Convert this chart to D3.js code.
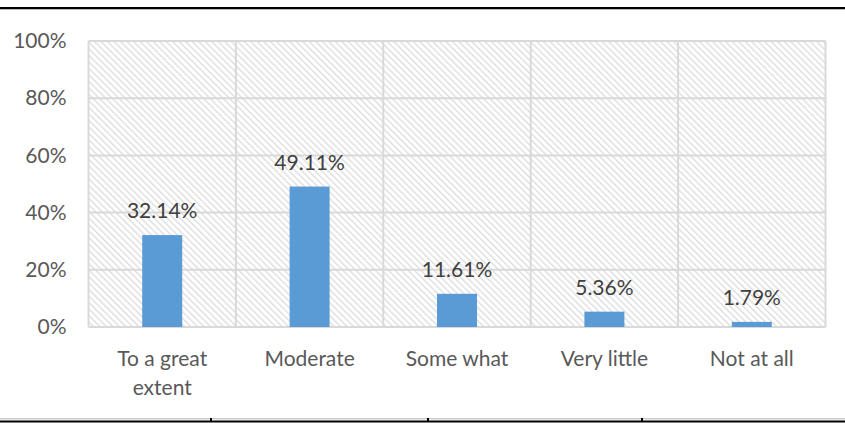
<!DOCTYPE html>
<html><head><meta charset="utf-8">
<script src="https://cdn.jsdelivr.net/npm/d3@7"></script>
<style>body{margin:0;background:#fff}svg{display:block}</style>
</head><body><svg id="c" width="845" height="423"></svg>
<script>
const categories = ["To a great extent","Moderate","Some what","Very little","Not at all"];
const categoryLines = [["To a great","extent"],["Moderate"],["Some what"],["Very little"],["Not at all"]];
const values = [32.14, 49.11, 11.61, 5.36, 1.79];
const yTicks = [0,20,40,60,80,100];

const svg = d3.select("#c");
const W=845,H=423;
const m={l:88.5,r:825.5,t:41,b:327};
const font="Lato, 'Open Sans', sans-serif";
const fs=21;

// page frame lines
svg.append("rect").attr("x",0).attr("y",7).attr("width",W).attr("height",2).attr("fill","#000");
svg.append("rect").attr("x",0).attr("y",9).attr("width",W).attr("height",1).attr("fill","#bbb");
svg.append("rect").attr("x",0).attr("y",418).attr("width",W).attr("height",1.5).attr("fill","#ccc");
svg.append("rect").attr("x",0).attr("y",420.5).attr("width",W).attr("height",2).attr("fill","#000");
[210,427,641].forEach(x=>svg.append("rect").attr("x",x).attr("y",418).attr("width",2).attr("height",3).attr("fill","#000"));

const x=d3.scaleBand().domain(categories).range([m.l,m.r]).paddingInner(0).paddingOuter(0);
const y=d3.scaleLinear().domain([0,100]).range([m.b,m.t]);

const defs=svg.append("defs");
const pat=defs.append("pattern").attr("id","hatch").attr("patternUnits","userSpaceOnUse")
  .attr("width",4.6).attr("height",4.6).attr("patternTransform","rotate(-45)");
pat.append("rect").attr("width",4.6).attr("height",4.6).attr("fill","#fff");
pat.append("rect").attr("x",0).attr("y",0).attr("width",1.3).attr("height",4.6).attr("fill","#dcdcdc");

svg.append("rect").attr("x",m.l).attr("y",m.t).attr("width",m.r-m.l).attr("height",m.b-m.t).attr("fill","url(#hatch)");

// gridlines
const g=svg.append("g").attr("stroke","#d9d9d9").attr("stroke-width",2);
yTicks.forEach(t=>g.append("line").attr("x1",m.l).attr("x2",m.r).attr("y1",y(t)).attr("y2",y(t)));
categories.forEach(c=>g.append("line").attr("x1",x(c)).attr("x2",x(c)).attr("y1",m.t).attr("y2",m.b));
g.append("line").attr("x1",m.r).attr("x2",m.r).attr("y1",m.t).attr("y2",m.b);

// y axis labels
const ya=svg.append("g").attr("transform",`translate(${m.l},0)`)
 .call(d3.axisLeft(y).tickValues(yTicks).tickFormat(d=>d+"%").tickSize(0).tickPadding(22));
ya.select(".domain").remove();
ya.selectAll("text").attr("font-family",font).attr("font-size",fs).attr("fill","#595959");

// bars
const bw=40;
svg.selectAll(".bar").data(values).join("rect").attr("class","bar")
 .attr("x",(d,i)=>x(categories[i])+x.bandwidth()/2-bw/2)
 .attr("y",d=>y(d)).attr("width",bw).attr("height",d=>y(0)-y(d)).attr("fill","#5B9BD5");

// data labels
svg.selectAll(".lbl").data(values).join("text").attr("class","lbl")
 .attr("x",(d,i)=>x(categories[i])+x.bandwidth()/2)
 .attr("y",d=>y(d)-17).attr("text-anchor","middle")
 .attr("font-family",font).attr("font-size",fs).attr("fill","#404040")
 .text(d=>d.toFixed(2)+"%");

// x axis labels
const xl=svg.append("g");
categories.forEach((c,i)=>{
  const t=xl.append("text").attr("text-anchor","middle")
    .attr("font-family",font).attr("font-size",fs).attr("fill","#595959");
  categoryLines[i].forEach((l,j)=>t.append("tspan")
    .attr("x",x(c)+x.bandwidth()/2).attr("y",m.b+39+j*29).text(l));
});
</script></body></html>
